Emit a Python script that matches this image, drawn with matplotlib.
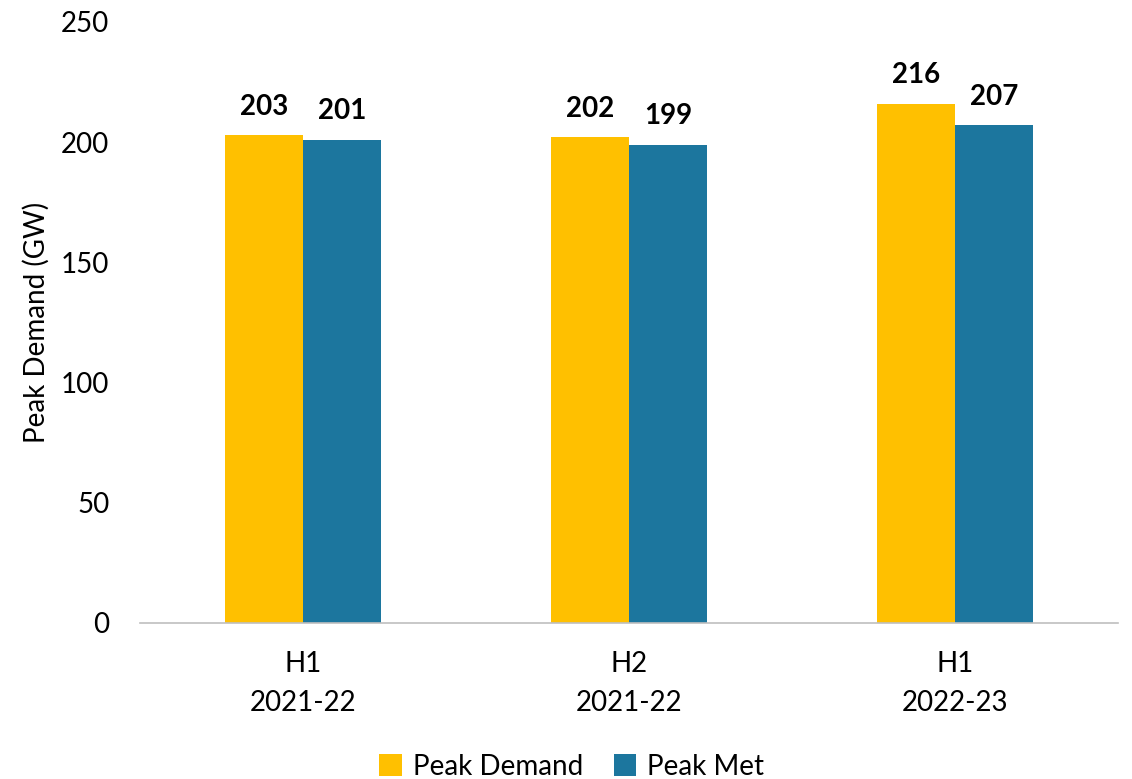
import matplotlib.pyplot as plt
import numpy as np

plt.rcParams['font.family'] = ['Lato', 'DejaVu Sans']

periods = ['H1\n2021-22', 'H2\n2021-22', 'H1\n2022-23']
peak_demand = [203, 202, 216]
peak_met = [201, 199, 207]

yellow = '#FFC000'
blue = '#1C769E'

fig = plt.figure(figsize=(11.32, 7.79), dpi=100)
ax = fig.add_axes([0.1237, 0.2003, 0.8639, 0.7715])

x = np.arange(len(periods))
w = 0.239
b1 = ax.bar(x - w / 2, peak_demand, w, color=yellow, label='Peak Demand')
b2 = ax.bar(x + w / 2, peak_met, w, color=blue, label='Peak Met')

for bars in (b1, b2):
    for rect in bars:
        h = rect.get_height()
        ax.annotate(f'{h:.0f}', (rect.get_x() + rect.get_width() / 2, h),
                    xytext=(0, 11), textcoords='offset points',
                    ha='center', va='bottom', fontsize=20, fontweight='bold')

ax.set_xlim(-0.5, 2.5)
ax.set_ylim(0, 250)
ax.set_yticks(range(0, 251, 50))
ax.set_xticks(x)
ax.set_xticklabels(periods, fontsize=20, linespacing=1.65)
ax.tick_params(axis='y', labelsize=20, length=0, pad=22)
ax.tick_params(axis='x', length=0, pad=20)
ax.set_ylabel('Peak Demand (GW)', fontsize=20, labelpad=8)

for s in ['top', 'right', 'left']:
    ax.spines[s].set_visible(False)
ax.spines['bottom'].set_color('#BFBFBF')
ax.spines['bottom'].set_linewidth(1.2)

fig.legend(loc='center', bbox_to_anchor=(0.505, 0.016), ncol=2, frameon=False,
           fontsize=20, handlelength=0.8, handleheight=0.8, handletextpad=0.4,
           columnspacing=1.1)

fig.savefig('out.png', dpi=100)
